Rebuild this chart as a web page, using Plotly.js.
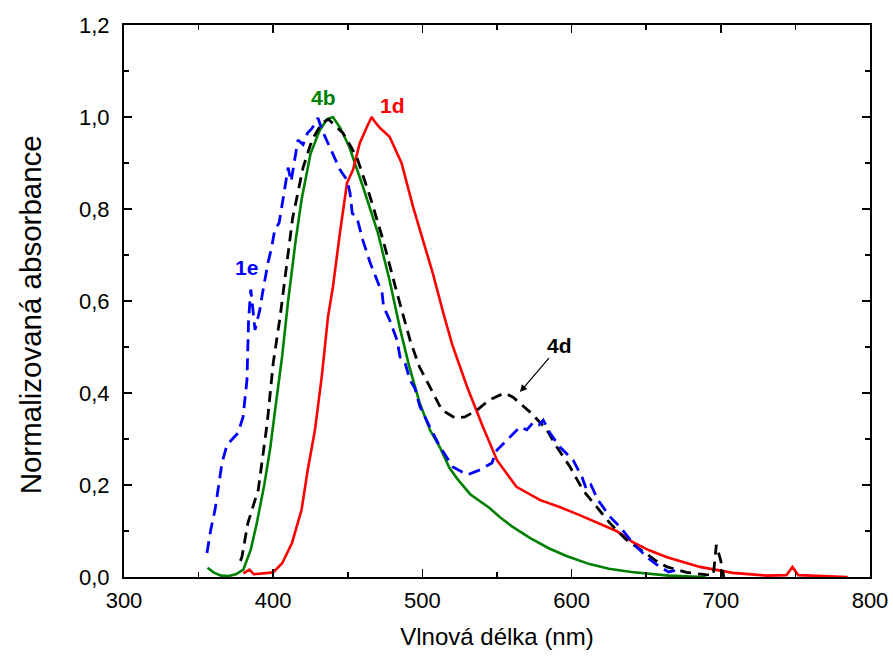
<!DOCTYPE html>
<html>
<head>
<meta charset="utf-8">
<script src="https://cdn.plot.ly/plotly-3.0.1.min.js"></script>
<style>html,body{margin:0;padding:0;background:#fff;}#chart{width:893px;height:659px;}</style>
</head>
<body>
<div id="chart"></div>
<script>
// 4b (green, solid)
const wl4b = [356,360,365,370,375,380,385,389,394,398,401,406,410,415,419,425,431,436,440,445,451,460,470,478,485,491,498,505,512,518,523,532,545,552,560,572,585,597,612,625,640,651,665,680,690];
const ab4b = [0.02,0.01,0.003,0.002,0.006,0.016,0.06,0.117,0.2,0.28,0.356,0.48,0.6,0.73,0.82,0.92,0.97,0.995,1.0,0.976,0.935,0.85,0.75,0.645,0.54,0.46,0.38,0.32,0.28,0.238,0.215,0.18,0.15,0.13,0.11,0.085,0.062,0.045,0.028,0.018,0.011,0.007,0.003,0.001,0.0];

// 1d (red, solid)
const wl1d = [380,384,387,392,400,406,412.6,419,423,428,432.7,436.7,440,444.8,449.5,453.5,458,463,466,468,471.6,478,486,493.7,500.4,507,514,520,530,540.6,550,563,579,592,605,619,630,641,652,664,686,708,731,744,748,752,770,785];
const ab1d = [0.008,0.016,0.006,0.008,0.01,0.03,0.074,0.146,0.23,0.32,0.44,0.565,0.63,0.75,0.857,0.885,0.943,0.98,1.0,0.99,0.976,0.957,0.9,0.805,0.733,0.66,0.574,0.505,0.413,0.326,0.254,0.196,0.167,0.152,0.135,0.115,0.1,0.076,0.058,0.043,0.022,0.009,0.003,0.004,0.022,0.004,0.001,0.0];

// 4d (black, dashed)
const wl4d = [378,379,383,390,396,400,404.6,406.6,413,420,426,432.7,437,446.8,456,465,473.6,483,492,498,505,513,521.8,528.5,536.6,545,555,560.7,572,583,590,599,607.6,615.7,625.7,637,648,659,664,677,690,695,697,700,702];
const ab4d = [0.035,0.043,0.117,0.19,0.335,0.465,0.565,0.617,0.78,0.89,0.95,0.987,0.995,0.965,0.913,0.826,0.733,0.617,0.512,0.457,0.413,0.363,0.346,0.348,0.363,0.385,0.4,0.391,0.359,0.322,0.283,0.239,0.189,0.157,0.117,0.08,0.054,0.03,0.022,0.01,0.005,0.004,0.07,0.035,0.0];

// 1e (blue, dashed)
const wl1e = [355.6,358,361,365.7,369,373,376.4,379.8,382.4,383.5,385,387.8,391,393,396.5,399,401,404,406.6,410,412,414.6,416.6,420,423,426,428,430,432.7,436.7,440,444.8,449.5,451.5,453,456,460,465,469.6,473,474,478,483,485,488,491.7,495,498.4,505,511.8,520.5,530,538.6,546.6,550,556.7,560,565.4,570,574,578,581,585.5,592,601,607,610,613,617.7,626,632.4,641,650.5,659,665,670.6];
const ab1e = [0.052,0.1,0.146,0.248,0.287,0.3,0.313,0.348,0.428,0.56,0.625,0.537,0.58,0.62,0.683,0.717,0.754,0.77,0.82,0.89,0.86,0.907,0.95,0.94,0.965,0.975,0.987,0.998,0.972,0.943,0.92,0.885,0.863,0.835,0.79,0.783,0.733,0.683,0.645,0.617,0.587,0.559,0.515,0.478,0.47,0.428,0.41,0.37,0.326,0.283,0.239,0.222,0.233,0.248,0.276,0.298,0.31,0.326,0.32,0.335,0.33,0.341,0.313,0.283,0.254,0.217,0.19,0.2,0.167,0.13,0.109,0.074,0.043,0.022,0.011,0.015];

const xTicks = [300,400,500,600,700,800];
const yTicks = [0,0.2,0.4,0.6,0.8,1.0,1.2];

const FONT = 'Liberation Sans, Arial, sans-serif';

const traces = [
  {x: wl4b, y: ab4b, mode:'lines', line:{color:'#008000', width:2.6}, name:'4b'},
  {x: wl1d, y: ab1d, mode:'lines', line:{color:'#ff0000', width:2.6}, name:'1d'},
  {x: wl4d, y: ab4d, mode:'lines', line:{color:'#000000', width:2.8, dash:'11px,7px'}, name:'4d'},
  {x: wl1e, y: ab1e, mode:'lines', line:{color:'#0000ff', width:2.8, dash:'12px,7px'}, name:'1e'}
];

const axisCommon = {
  showline:true, linecolor:'#000', linewidth:2, mirror:'allticks',
  ticks:'inside', ticklen:8, tickwidth:1.5, tickcolor:'#000',
  showgrid:false, zeroline:false,
  tickfont:{family:FONT, size:22, color:'#000'}
};

const layout = {
  width:893, height:659,
  margin:{l:124, r:23, t:25, b:82},
  paper_bgcolor:'#fff', plot_bgcolor:'#fff',
  showlegend:false,
  separators:', ',
  font:{family:FONT, color:'#000'},
  xaxis: Object.assign({}, axisCommon, {
    range:[300,800], tickvals:xTicks, ticklabelstandoff:3,
    minor:{dtick:50, ticks:'inside', ticklen:5, tickwidth:1.5, tickcolor:'#000'},
    title:{text:'Vlnová délka (nm)', font:{family:FONT, size:24, color:'#000'}, standoff:16}
  }),
  yaxis: Object.assign({}, axisCommon, {
    range:[0,1.2], tickvals:yTicks, tickformat:'.1f', ticklabelstandoff:8,
    minor:{dtick:0.1, ticks:'inside', ticklen:5, tickwidth:1.5, tickcolor:'#000'}
  }),
  annotations:[
    {x:-0.126, y:0.474, xref:'paper', yref:'paper', text:'Normalizovaná absorbance', textangle:-90, showarrow:false,
     xanchor:'center', yanchor:'middle', font:{family:FONT, size:29.5, color:'#000'}},
    {x:434, y:1.043, xref:'x', yref:'y', text:'<b>4b</b>', showarrow:false, font:{family:FONT, size:21, color:'#008000'}},
    {x:480, y:1.024, xref:'x', yref:'y', text:'<b>1d</b>', showarrow:false, font:{family:FONT, size:21, color:'#ff0000'}},
    {x:381.8, y:0.672, xref:'x', yref:'y', text:'<b>1e</b>', showarrow:false, font:{family:FONT, size:21, color:'#0000ff'}},
    {x:565.4, y:0.402, xref:'x', yref:'y', text:'<b>4d</b>', showarrow:true, ax:40, ay:-47,
     arrowhead:2, arrowsize:1.2, arrowwidth:1.2, arrowcolor:'#000', font:{family:FONT, size:21, color:'#000'}}
  ]
};

Plotly.newPlot('chart', traces, layout, {displayModeBar:false, staticPlot:true});
</script>
</body>
</html>
